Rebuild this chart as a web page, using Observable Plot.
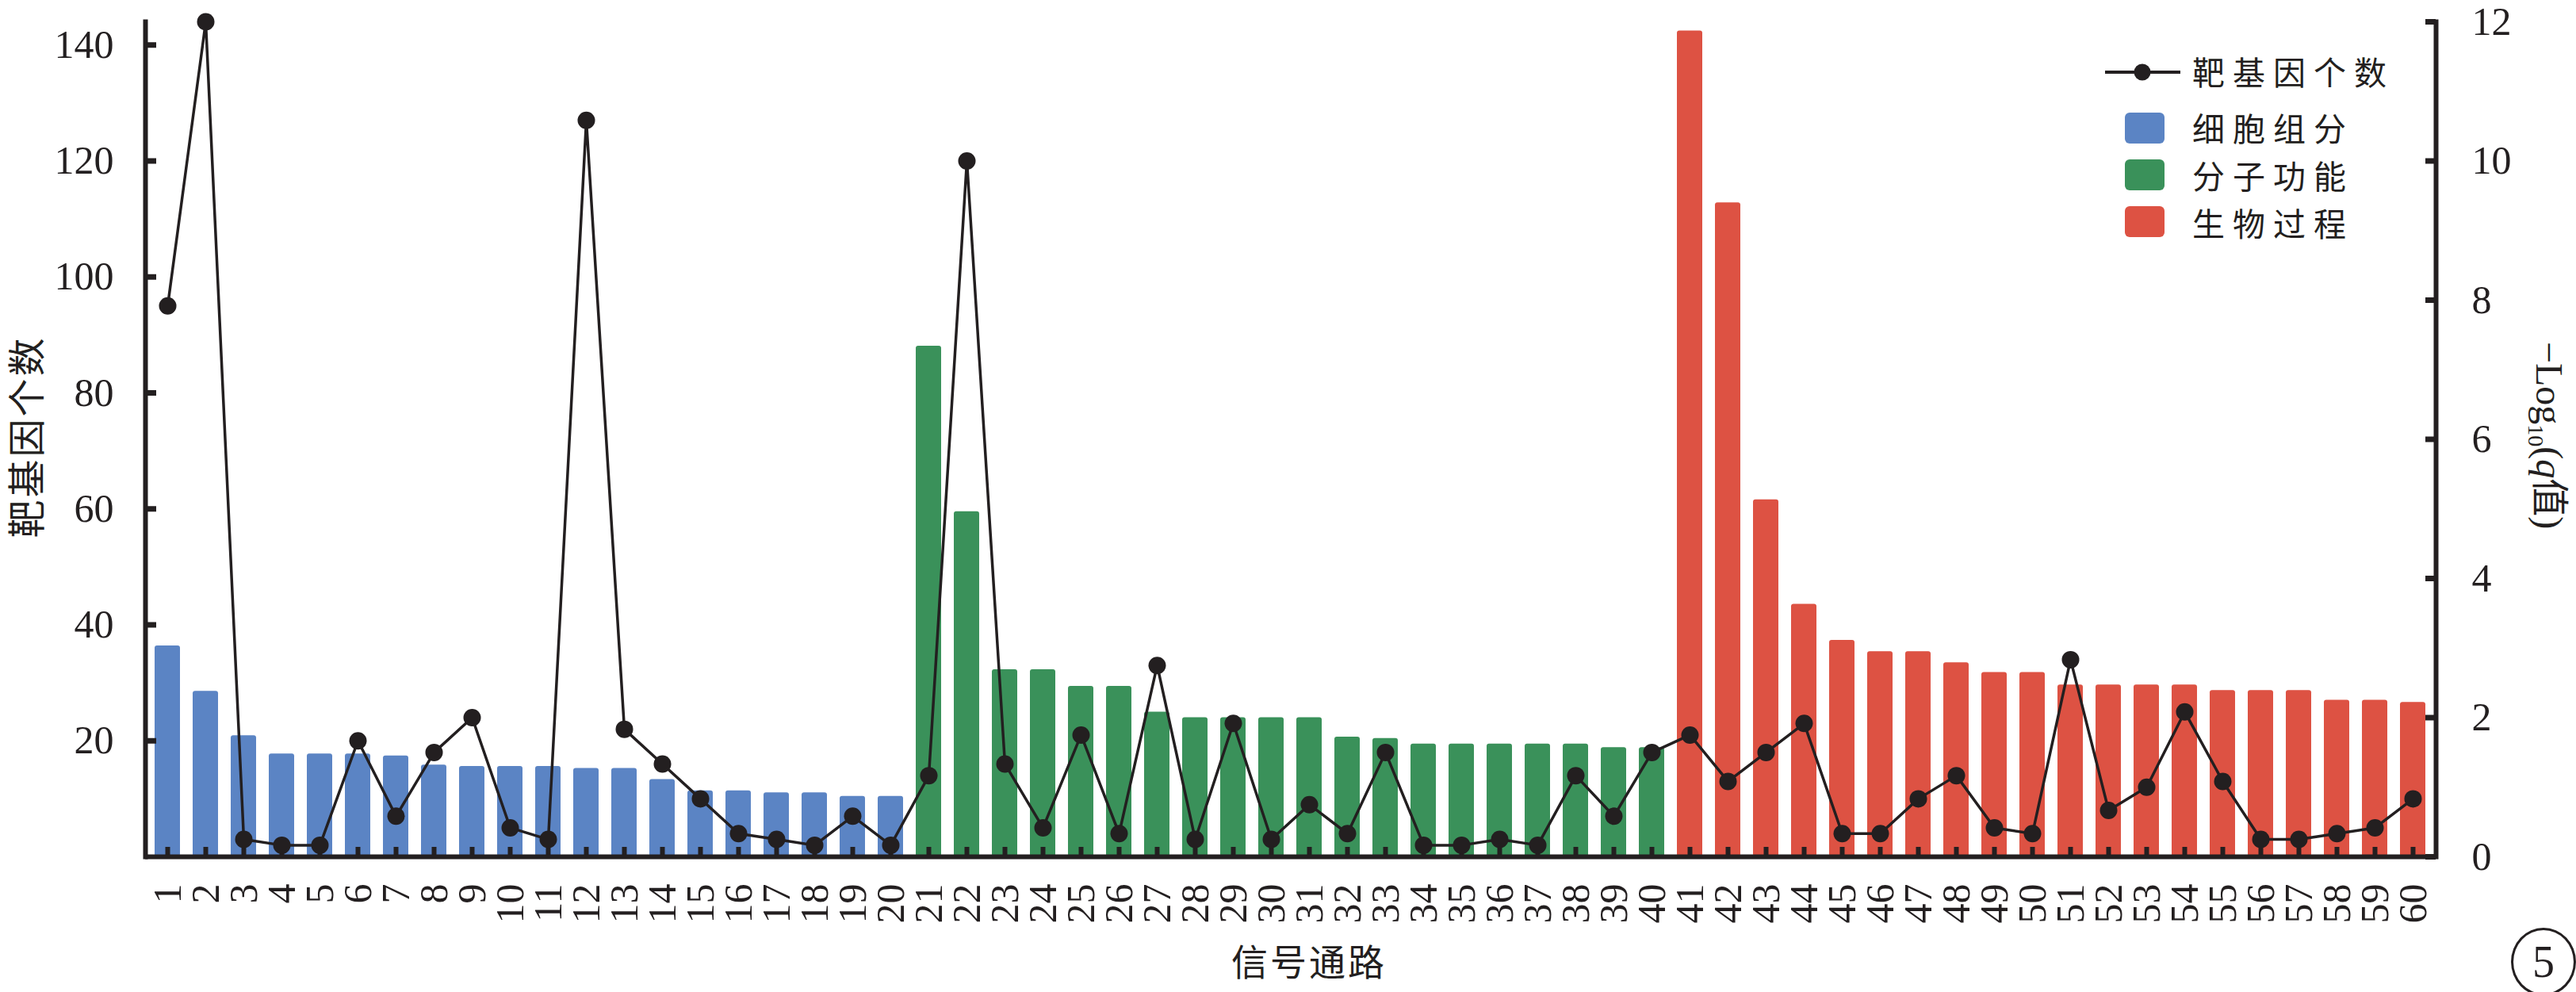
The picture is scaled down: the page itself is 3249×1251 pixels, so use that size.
<!DOCTYPE html>
<html>
<head>
<meta charset="utf-8">
<script src="https://cdn.jsdelivr.net/npm/d3@7"></script>
<script src="https://cdn.jsdelivr.net/npm/@observablehq/plot@0.6"></script>
<style>
  body { margin: 0; background: #fff; }
  #wrap { position: relative; width: 3249px; height: 1251px; background: #fff; color: #231f20; }
  .cjk { font-family: "Noto Sans CJK SC", sans-serif; }
  .abs { position: absolute; white-space: nowrap; line-height: 1; }
</style>
</head>
<body>
<div id="wrap"></div>
<script>
// ---------- data ----------
const pathways = d3.range(1, 61).map(String);
const categories = ["细胞组分", "分子功能", "生物过程"];
const categorySizes = [20, 20, 20];
const categoryColors = ["#5B84C4", "#3A915A", "#DD5243"];

// bars: −Log10(q值), right axis
const qCell = [3.03, 2.38, 1.74, 1.48, 1.48, 1.48, 1.45, 1.32, 1.30, 1.30, 1.30, 1.27, 1.27, 1.11, 0.95, 0.95, 0.92, 0.92, 0.87, 0.87];
const qMol  = [7.34, 4.96, 2.69, 2.69, 2.45, 2.45, 2.08, 2.00, 2.00, 2.00, 2.00, 1.72, 1.70, 1.62, 1.62, 1.62, 1.62, 1.62, 1.57, 1.57];
const qBio  = [11.87, 9.40, 5.13, 3.63, 3.11, 2.95, 2.95, 2.79, 2.65, 2.65, 2.47, 2.47, 2.47, 2.47, 2.39, 2.39, 2.39, 2.25, 2.25, 2.22];

// line: 靶基因个数, left axis
const geneCounts = [95, 144, 3, 2, 2, 20, 7, 18, 24, 5, 3, 127, 22, 16, 10, 4, 3, 2, 7, 2,
                    14, 120, 16, 5, 21, 4, 33, 3, 23, 3, 9, 4, 18, 2, 2, 3, 2, 14, 7, 18,
                    21, 13, 18, 23, 4, 4, 10, 14, 5, 4, 34, 8, 12, 25, 13, 3, 3, 4, 5, 10];

const leftTicks = [20, 40, 60, 80, 100, 120, 140];
const rightTicks = [0, 2, 4, 6, 8, 10, 12];
const leftMax = 144, rightMax = 12;
const K = leftMax / rightMax;

// ---------- table ----------
const qAll = [...qCell, ...qMol, ...qBio];
const catOf = [];
categorySizes.forEach((n, i) => { for (let j = 0; j < n; j++) catOf.push(categories[i]); });
const rows = pathways.map((p, i) => ({pathway: p, category: catOf[i], q: qAll[i], count: geneCounts[i]}));

// ---------- layout ----------
const W = 3249, H = 1251;
const mL = 183, mR = 177, mT = 27, mB = 171;
const plotW = W - mL - mR, plotH = H - mT - mB;
const ink = "#231f20";

const chart = Plot.plot({
  width: W, height: H,
  marginLeft: mL, marginRight: mR, marginTop: mT, marginBottom: mB,
  style: {fontFamily: "'Liberation Serif', 'Times New Roman', serif", fontSize: "50px", color: ink, background: "white", overflow: "visible"},
  x: {domain: pathways, paddingInner: 0.33, paddingOuter: 0.165, label: null},
  y: {domain: [0, leftMax], label: null},
  color: {domain: categories, range: categoryColors},
  marks: [
    Plot.barY(rows, {x: "pathway", y: d => d.q * K, fill: "category", rx: 3}),
    Plot.tickX(pathways, {x: d => d, stroke: ink, strokeWidth: 6, insetTop: plotH - 12}),
    Plot.ruleY([0], {stroke: ink, strokeWidth: 6}),
    Plot.frame({anchor: "left", stroke: ink, strokeWidth: 6}),
    Plot.frame({anchor: "right", stroke: ink, strokeWidth: 6}),
    Plot.tickY(leftTicks, {y: d => d, stroke: ink, strokeWidth: 7, insetRight: plotW - 14}),
    Plot.tickY(rightTicks.map(v => v * K), {y: d => d, stroke: ink, strokeWidth: 7, insetLeft: plotW - 13}),
    Plot.axisX({tickSize: 0, tickPadding: 34, tickRotate: -90, label: null, fontSize: 50}),
    Plot.axisY(leftTicks, {anchor: "left", tickSize: 0, tickPadding: 40, label: null, fontSize: 50}),
    Plot.axisY(rightTicks.map(v => v * K), {anchor: "right", tickSize: 0, tickPadding: 45, tickFormat: d => String(Math.round(d / K)), label: null, fontSize: 50}),
    Plot.line(rows, {x: "pathway", y: "count", stroke: ink, strokeWidth: 3.5}),
    Plot.dot(rows, {x: "pathway", y: "count", r: 11, fill: ink, stroke: "none"})
  ]
});

const wrap = document.getElementById("wrap");
wrap.appendChild(chart);

function addDiv(html, cls, css) {
  const d = document.createElement("div");
  d.className = "abs " + cls;
  d.innerHTML = html;
  Object.assign(d.style, css);
  wrap.appendChild(d);
  return d;
}

// axis titles
addDiv("靶基因个数", "cjk", {left: "30px", top: "551px", fontSize: "48px", letterSpacing: "3px", transform: "translate(-50%,-50%) rotate(-90deg)"});
addDiv("信号通路", "cjk", {left: "1651px", top: "1210px", fontSize: "46px", letterSpacing: "3px", transform: "translate(-50%,-50%)"});
addDiv('<span style="font-family:\'Liberation Serif\',serif">−Log<sub style="font-size:28px">10</sub>(<i>q</i></span>值<span style="font-family:\'Liberation Serif\',serif">)</span>', "cjk",
  {left: "3214px", top: "549px", fontSize: "48px", transform: "translate(-50%,-50%) rotate(90deg)"});

// legend
const lg = document.createElementNS("http://www.w3.org/2000/svg", "svg");
lg.setAttribute("width", "120"); lg.setAttribute("height", "260");
lg.style.position = "absolute"; lg.style.left = "2650px"; lg.style.top = "60px";
lg.innerHTML =
  `<line x1="5" y1="31" x2="100" y2="31" stroke="${ink}" stroke-width="4"/>` +
  `<circle cx="52" cy="31" r="10.5" fill="${ink}"/>` +
  categoryColors.map((c, i) => `<rect x="30" y="${[82, 141, 200][i]}" width="50" height="39" rx="6" fill="${c}"/>`).join("");
wrap.appendChild(lg);
const legendLabels = ["靶基因个数", ...categories];
const legendY = [90, 161, 221, 281];
legendLabels.forEach((t, i) => addDiv(t, "cjk", {left: "2765px", top: (legendY[i] - 21) + "px", fontSize: "41px", letterSpacing: "10px"}));

// circled number
addDiv("5", "", {left: "3167px", top: "1170px", width: "76px", height: "80px", border: "3px solid " + ink, borderRadius: "50%",
  fontFamily: "'Liberation Serif', serif", fontSize: "56px", display: "flex", alignItems: "center", justifyContent: "center"});
</script>
</body>
</html>
